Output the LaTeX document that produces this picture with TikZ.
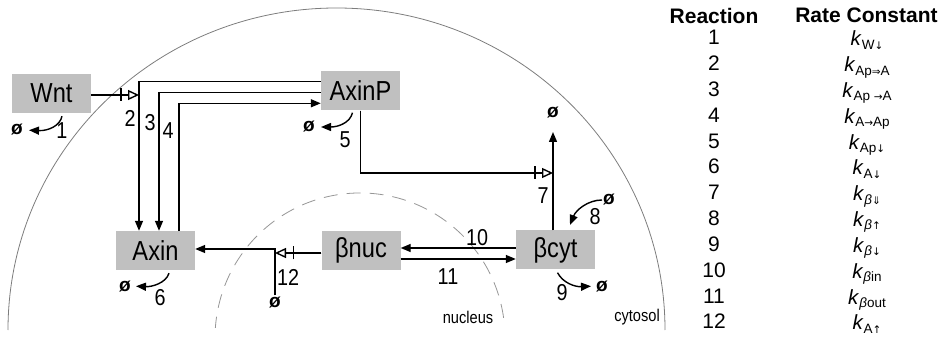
\documentclass[tikz,border=0pt]{standalone}
\usepackage{fontspec}
\setmainfont{Liberation Sans}
\newfontfamily\dg[FakeStretch=0.86]{Liberation Sans}
\newfontfamily\dvs{DejaVu Sans}
\usetikzlibrary{arrows.meta}
\definecolor{boxgray}{RGB}{192,192,192}
\definecolor{arcgray}{RGB}{125,125,125}
\definecolor{dashgray}{RGB}{150,150,150}
\newcommand\rc[1]{\textit{k}\raisebox{-0.3ex}{\fontsize{13.5}{13.5}\selectfont #1}}
\newcommand\sar[1]{{\dvs\fontsize{10.5}{10.5}\selectfont #1}}
\begin{document}
\begin{tikzpicture}[x=1pt,y=-1pt,
 species/.style={fill=boxgray, minimum width=79pt, minimum height=39pt, inner sep=0pt, font=\dg\fontsize{27.5}{27.5}\selectfont},
 lbl/.style={font=\dg\fontsize{23}{23}\selectfont, inner sep=0pt},
 sink/.style={font=\bfseries\fontsize{19}{19}\selectfont, inner sep=1pt},
 conn/.style={line width=1.4pt},
 arr/.style={conn, -{Triangle[length=10pt,width=8pt]}},
 cat/.style={conn, -{Triangle[open,length=11pt,width=10pt,fill=white]},
   postaction={draw, line width=1.4pt, -{Bar[width=13pt]}, shorten >=17.5pt}},
 head/.style={font=\bfseries\fontsize{21}{21}\selectfont, inner sep=0pt},
 num/.style={font=\fontsize{21}{21}\selectfont, inner sep=0pt, anchor=base},
 kc/.style={font=\fontsize{20.5}{20.5}\selectfont, inner sep=0pt, anchor=base},
 place/.style={font=\dg\fontsize{17}{17}\selectfont, inner sep=0pt}
]
\useasboundingbox (0,0) rectangle (940,339);

% compartments
\draw[arcgray, line width=0.8pt] (8,330) arc[start angle=180, end angle=0, x radius=328.5pt, y radius=322pt];
\draw[dashgray, line width=0.8pt, dash pattern=on 14pt off 9pt] (503.6,317.8) arc[start angle=8, end angle=176, radius=145pt];
\node[place] (nuc) at (468,317) {nucleus};
\node[place] (cyt) at (637,317) {cytosol};

% species
\node[species] (wnt) at (51.5,93.5) {Wnt};
\node[species] (axinp) at (360.5,91) {AxinP};
\node[species] (axin) at (155.5,250.5) {Axin};
\node[species] (bnuc) at (361,250.5) {βnuc};
\node[species] (bcyt) at (555.5,250) {βcyt};

% sinks
\node[sink] (z1) at (17,130) {ø};
\node[sink] (z5) at (309,127) {ø};
\node[sink] (z6) at (125,286) {ø};
\node[sink] (z7) at (553,113) {ø};
\node[sink] (z8) at (609,200) {ø};
\node[sink] (z9) at (602,286) {ø};
\node[sink] (z12) at (275,302) {ø};

% helper coordinates
\coordinate (r2) at (139,81.7);
\coordinate (r3) at (159,92.7);
\coordinate (r4) at (179,103.3);
\coordinate (r7) at (553,173);
\coordinate (t7) at (553,132);
\coordinate (t8) at (570,225);
\coordinate (r12) at (275,249);
\coordinate (c12) at (275,253);

% reaction 2,3,4
\draw[cat] (wnt.east |- 0,95) -- (r2 |- 0,95);
\draw[arr] (axinp.west |- r2) -- (r2) -- (r2 |- axin.north);
\draw[arr] (axinp.west |- r3) -- (r3) -- (r3 |- axin.north);
\draw[arr] (r4 |- axin.north) -- (r4) -- (axinp.west |- r4);

% reaction 7
\draw[cat] (axinp.south) -- (axinp.south |- r7) -- (r7);
\draw[arr] (r7 |- bcyt.north) -- (t7);

% reactions 10, 11
\draw[arr] (bcyt.west |- 0,248) -- (bnuc.east |- 0,248);
\draw[arr] (bnuc.east |- 0,259) -- (bcyt.west |- 0,259);

% reaction 12
\draw[cat] (bnuc.west |- c12) -- (c12);
\draw[arr] (z12.north) -- (r12) -- (axin.east |- r12);

% degradation / production
\draw[arr, shorten >=5pt] ([xshift=10.5pt,yshift=-3pt]wnt.south) .. controls (60,126) and (48,131) .. (z1.east);
\draw[arr, shorten >=5pt] ([xshift=-8pt,yshift=-2pt]axinp.south) .. controls (350,123) and (338,127) .. (z5.east);
\draw[arr, shorten >=4pt] ([xshift=13.5pt,yshift=-3pt]axin.south) .. controls (166,283) and (152,287) .. (z6.east);
\draw[arr] (z8.west) .. controls (588,200) and (576,210) .. (t8);
\draw[arr, shorten >=4pt] ([xshift=2pt,yshift=-3pt]bcyt.south) .. controls (563,283) and (575,287) .. (z9.west);

% reaction labels
\node[lbl] (l1) at (62,131) {1};
\node[lbl] (l2) at (130,118) {2};
\node[lbl] (l3) at (150,123) {3};
\node[lbl] (l4) at (168,131) {4};
\node[lbl] (l5) at (345,140) {5};
\node[lbl] (l6) at (160,298) {6};
\node[lbl] (l7) at (543,196) {7};
\node[lbl] (l8) at (595,217) {8};
\node[lbl] (l9) at (562,293) {9};
\node[lbl] (l10) at (477,238) {10};
\node[lbl] (l11) at (448,277) {11};
\node[lbl] (l12) at (288,277) {12};

% table
\node[head] (hr) at (714,15.5) {Reaction};
\node[head] (hk) at (866.5,15.5) {Rate Constant};
\foreach \i/\k in {1/{W\sar{↓}}, 2/{Ap\sar{⇒}A}, 3/{Ap \sar{→}A}, 4/{A\sar{→}Ap},
  5/{Ap\sar{↓}}, 6/{A\sar{↓}}, 7/{\textit{β}\sar{⇓}}, 8/{\textit{β}\sar{↑}},
  9/{\textit{β}\sar{↓}}, 10/{\textit{β}in}, 11/{\textit{β}out}, 12/{A\sar{↑}}}{
  \node[num] (n\i) at (714,{45+(\i-1)*25.8}) {\i};
  \node[kc] (k\i) at (867,{46+(\i-1)*25.8}) {\rc{\k}};
}
\end{tikzpicture}
\end{document}
